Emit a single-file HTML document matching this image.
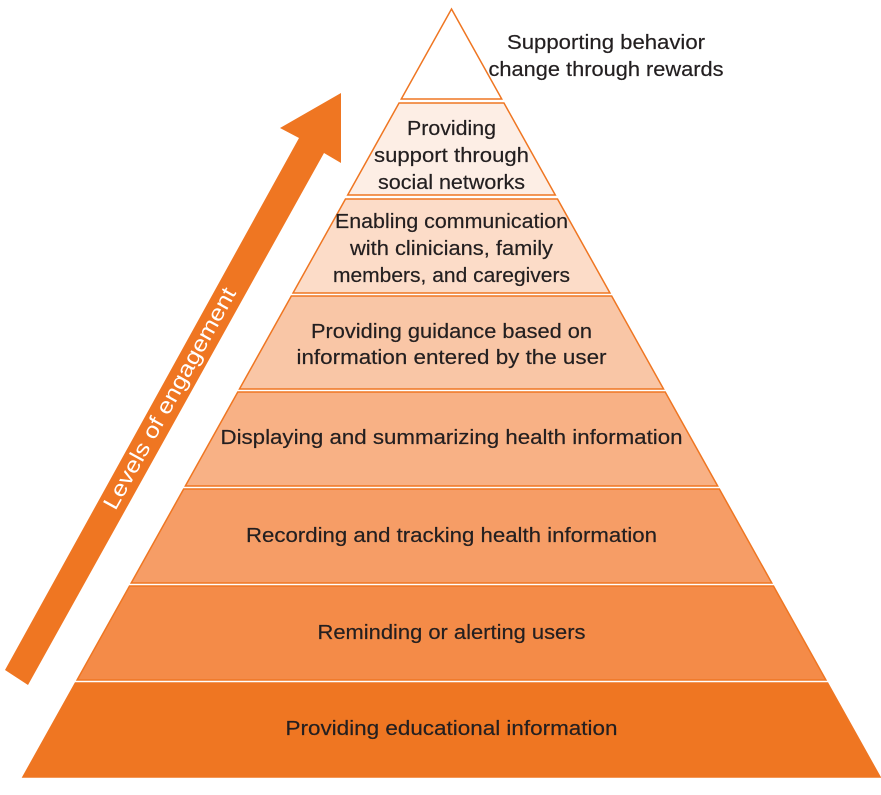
<!DOCTYPE html>
<html><head><meta charset="utf-8"><style>
html,body{margin:0;padding:0;background:#fff;}
svg{display:block;}
text{font-family:"Liberation Sans",sans-serif;fill:#231f20;font-size:20px;stroke:#231f20;stroke-width:0.2;}
</style></head><body>
<svg id="chart" width="881" height="795" viewBox="0 0 881 795" xmlns="http://www.w3.org/2000/svg">
<polygon points="5,670 299,138 280,128 341,93 341,163 324,153 28,685" fill="#ef7622"/>
<text transform="translate(176,402) rotate(-61)" text-anchor="middle" style="fill:#fff;stroke:none;font-size:22px" textLength="250" lengthAdjust="spacingAndGlyphs">Levels of engagement</text>
<g id="pyr"></g>
</svg>
<script>
const levelLabels = [
  ["Supporting behavior","change through rewards"],
  ["Providing","support through","social networks"],
  ["Enabling communication","with clinicians, family","members, and caregivers"],
  ["Providing guidance based on","information entered by the user"],
  ["Displaying and summarizing health information"],
  ["Recording and tracking health information"],
  ["Reminding or alerting users"],
  ["Providing educational information"]
];
const levelTops = [9,103,199,296,392,489,586,683];
const levelBottoms = [99,195,293,389,486,583,680,777];
const levelFills = ["#ffffff","#fdeee5","#fcdcc8","#f9c6a6","#f8b185","#f69d66","#f48b48","#ef7622"];
const lineWidths = [[198,235],[89,155,147],[233,203,237],[281,310],[462],[411],[268],[332]];
const lineCenters = [[42,69],[128,155,182],[221,248,275],[331,357],[437],[535],[632],[728]];

const cx = 451.5, apexY = 9, slope = 0.558;
const hw = y => (y - apexY) * slope;
const g = document.getElementById('pyr');
const NS = "http://www.w3.org/2000/svg";
levelTops.forEach((t, i) => {
  const b = levelBottoms[i];
  const p = document.createElementNS(NS, 'polygon');
  
  
  const pts = i === 0
    ? `${cx},${t} ${cx + hw(b)},${b} ${cx - hw(b)},${b}`
    : `${cx - hw(t)},${t} ${cx + hw(t)},${t} ${cx + hw(b)},${b} ${cx - hw(b)},${b}`;
  p.setAttribute('points', pts);
  p.setAttribute('fill', levelFills[i]);
  p.setAttribute('stroke', '#ef7622');
  p.setAttribute('stroke-width', '1.5');
  g.appendChild(p);
  levelLabels[i].forEach((line, j) => {
    const tx = document.createElementNS(NS, 'text');
    
    
    const x = i === 0 ? 606 : cx;
    tx.setAttribute('x', x);
    tx.setAttribute('y', lineCenters[i][j] + 7);
    tx.setAttribute('text-anchor', 'middle');
    tx.setAttribute('textLength', lineWidths[i][j]);
    tx.setAttribute('lengthAdjust', 'spacingAndGlyphs');
    tx.textContent = line;
    g.appendChild(tx);
  });
});
</script>
</body></html>
